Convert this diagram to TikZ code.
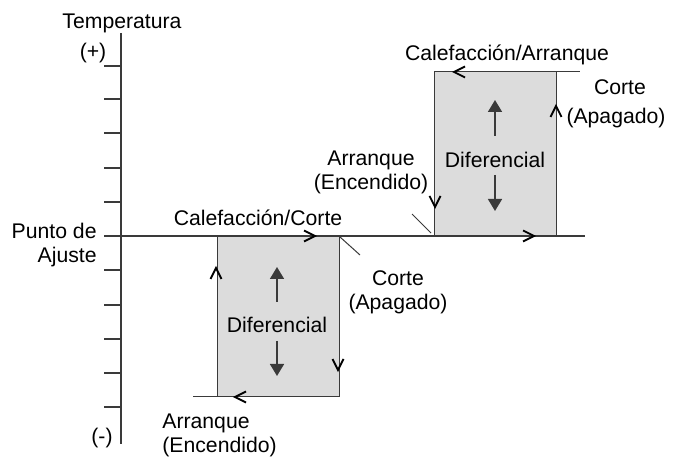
\documentclass[tikz,border=0pt]{standalone}
\usepackage{fontspec}
\setmainfont{Liberation Sans}
\usetikzlibrary{arrows.meta}
\definecolor{linea}{HTML}{3A3A3A}
\definecolor{relleno}{HTML}{DCDCDC}

\begin{document}
\begin{tikzpicture}[ x=0.5pt,y=-0.5pt,
    every node/.style={ inner sep=0pt,font=\fontsize{10.6}{12}\selectfont },
    eje/.style={ linea,line width=0.7pt },
    caja/.style={ draw=linea,fill=relleno,line width=0.5pt },
    fina/.style={ linea,line width=0.5pt },
    dif/.style={ linea,line width=0.8pt,-{Triangle[width=7pt,length=6pt]} },
    pico/.pic={ \draw [ black,line width=0.9pt ] (-11,-5.5) -- (0,0) -- (-11,5.5); } ]
    \useasboundingbox (0,0) rectangle (680,464);

    % eje de temperatura
    \draw [ eje ] (121,33) -- (121,444);
    \foreach \t in {66,99,133,168,202,270,305,339,373,407}
        \draw [ eje ] (104,\t) -- (121,\t);
    \node (temp) at (122,23) {Temperatura};
    \node (mas) at (93,53) {(+)};
    \node (menos) at (102,438) {(-)};
    \node [ anchor=east,align=right ] (ajuste) at (97,245) {Punto de\\Ajuste};

    % cajas
    \filldraw [ caja ] (217,236) rectangle (339,397);
    \filldraw [ caja ] (434,72) rectangle (556,236);
    \draw [ eje ] (104,236) -- (585,236);
    \draw [ fina ] (193,397) -- (217,397);
    \draw [ fina ] (556,72) -- (580,72);
    \draw [ fina ] (340,237) -- (360,255);
    \draw [ fina ] (412,214) -- (431,233);

    % sentido del ciclo
    \pic at (315,236) {pico};
    \pic [ rotate=90 ] at (216,268) {pico};
    \pic [ rotate=-90 ] at (338,370) {pico};
    \pic [ rotate=180 ] at (235,397) {pico};
    \pic [ rotate=180 ] at (454,72) {pico};
    \pic [ rotate=90 ] at (556,106) {pico};
    \pic [ rotate=-90 ] at (435,207) {pico};
    \pic at (534,236) {pico};

    % diferencial
    \node (difA) at (277,325) {Diferencial};
    \draw [ dif ] (277,302) -- (277,267);
    \draw [ dif ] (277,341) -- (277,376);
    \node (difB) at (495,160) {Diferencial};
    \draw [ dif ] (495,136) -- (495,100);
    \draw [ dif ] (495,175) -- (495,211);

    % textos
    \node (calcorte) at (258,218) {Calefacción/Corte};
    \node [ align=center ] (corteA) at (398,292) {Corte\\(Apagado)};
    \node [ anchor=west,align=left ] (arrA) at (162,435) {Arranque\\(Encendido)};
    \node (calarr) at (507,55) {Calefacción/Arranque};
    \node (corteB) at (620,87) {Corte};
    \node (apagB) at (616,118) {(Apagado)};
    \node [ align=center ] (arrB) at (371,172) {Arranque\\(Encendido)};
\end{tikzpicture}
\end{document}
